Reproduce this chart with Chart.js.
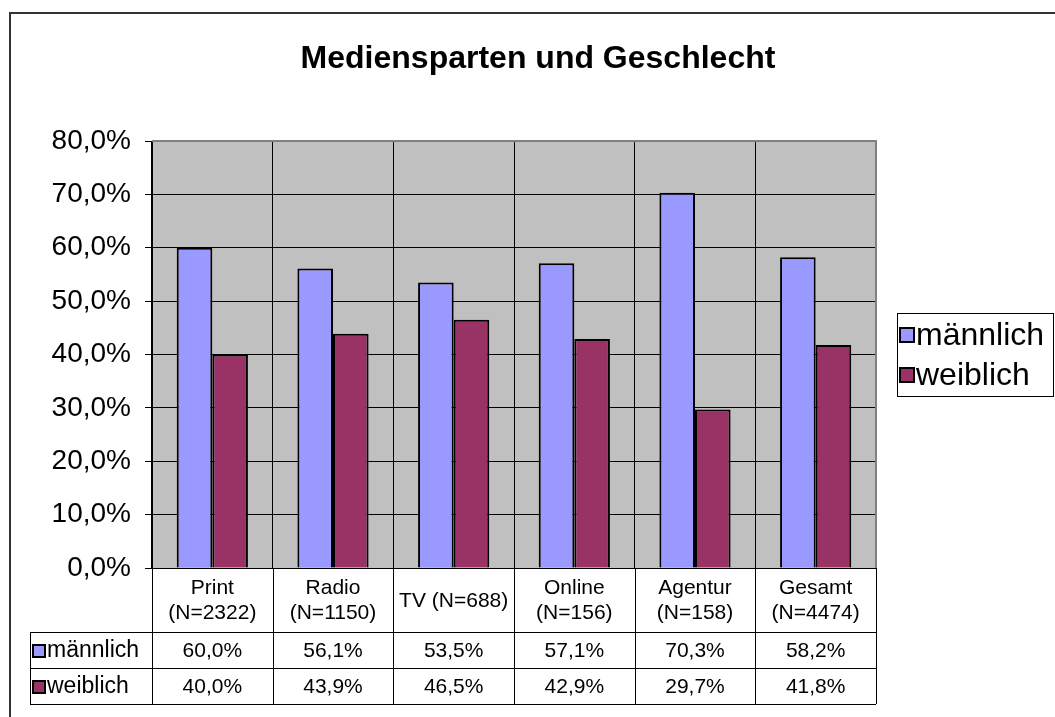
<!DOCTYPE html>
<html>
<head>
<meta charset="utf-8">
<script src="https://cdn.jsdelivr.net/npm/chart.js@4/dist/chart.umd.min.js"></script>
<style>
  html, body { margin: 0; padding: 0; background: #fff; }
  #wrap { width: 1055px; height: 717px; }
</style>
</head>
<body>
<div id="wrap"><canvas id="chart" width="1055" height="717"></canvas></div>
<script>
const chartTitle = "Mediensparten und Geschlecht";
const categories = [
  ["Print", "(N=2322)"],
  ["Radio", "(N=1150)"],
  ["TV (N=688)"],
  ["Online", "(N=156)"],
  ["Agentur", "(N=158)"],
  ["Gesamt", "(N=4474)"]
];
const seriesNames = ["männlich", "weiblich"];
const maleValues = [60.0, 56.1, 53.5, 57.1, 70.3, 58.2];
const femaleValues = [40.0, 43.9, 46.5, 42.9, 29.7, 41.8];
const seriesColors = ["#9999FF", "#993366"];
const yTicks = [0, 10, 20, 30, 40, 50, 60, 70, 80];

const FONT = "'Liberation Sans', Arial, sans-serif";

function fmtPct(v) {
  return v.toFixed(1).replace(".", ",") + "%";
}

// grey plot background + frame around the whole chart
const backgroundPlugin = {
  id: "plotBackground",
  beforeDraw(chart) {
    const { ctx, chartArea: a } = chart;
    ctx.save();
    ctx.fillStyle = "#fff";
    ctx.fillRect(0, 0, chart.width, chart.height);
    ctx.fillStyle = "#C0C0C0";
    ctx.fillRect(a.left, a.top, a.right - a.left, a.bottom - a.top);
    ctx.restore();
  },
  afterDraw(chart) {
    const { ctx, chartArea: a } = chart;
    ctx.save();
    // plot border top/right in grey
    ctx.strokeStyle = "#808080";
    ctx.lineWidth = 2;
    ctx.beginPath();
    ctx.moveTo(a.left, a.top);
    ctx.lineTo(a.right, a.top);
    ctx.lineTo(a.right, a.bottom);
    ctx.stroke();
    // outer frame
    ctx.strokeStyle = "#333";
    ctx.lineWidth = 2;
    ctx.beginPath();
    ctx.moveTo(10, chart.height);
    ctx.lineTo(10, 13);
    ctx.lineTo(chart.width, 13);
    ctx.stroke();
    ctx.restore();
  }
};

const titlePlugin = {
  id: "titleText",
  afterDraw(chart) {
    const ctx = chart.ctx;
    ctx.save();
    ctx.fillStyle = "#000";
    ctx.font = "bold 32px " + FONT;
    ctx.textAlign = "center";
    ctx.textBaseline = "alphabetic";
    ctx.fillText(chartTitle, 538, 68);
    ctx.restore();
  }
};

function legendKey(ctx, x, y, size, color) {
  ctx.fillStyle = color;
  ctx.fillRect(x, y, size, size);
  ctx.strokeStyle = "#000";
  ctx.lineWidth = 2;
  ctx.strokeRect(x, y, size, size);
}

const legendPlugin = {
  id: "sideLegend",
  afterDraw(chart) {
    const ctx = chart.ctx;
    ctx.save();
    ctx.strokeStyle = "#000";
    ctx.lineWidth = 1;
    ctx.strokeRect(897.5, 313.5, 156, 83);
    ctx.font = "32px " + FONT;
    ctx.textBaseline = "middle";
    ctx.textAlign = "left";
    seriesNames.forEach((name, i) => {
      const cy = 335 + i * 40;
      legendKey(ctx, 900, cy - 7, 14, seriesColors[i]);
      ctx.fillStyle = "#000";
      ctx.fillText(name, 916, cy + 1);
    });
    ctx.restore();
  }
};

// data table under the category axis
const tablePlugin = {
  id: "dataTable",
  afterDraw(chart) {
    const ctx = chart.ctx;
    const x = chart.scales.x;
    const a = chart.chartArea;
    const n = categories.length;
    const half = (x.getPixelForValue(1) - x.getPixelForValue(0)) / 2;
    const rows = [a.bottom, 632, 668, 704];
    const tableLeft = 30;

    ctx.save();
    ctx.strokeStyle = "#000";
    ctx.lineWidth = 1;
    ctx.beginPath();
    // horizontal lines
    for (let r = 1; r < rows.length; r++) {
      ctx.moveTo(tableLeft, rows[r] + 0.5);
      ctx.lineTo(a.right, rows[r] + 0.5);
    }
    // vertical lines
    ctx.moveTo(tableLeft + 0.5, rows[1]);
    ctx.lineTo(tableLeft + 0.5, rows[3]);
    for (let i = 0; i <= n; i++) {
      const px = Math.round(x.getPixelForValue(i) - half) + 0.5;
      ctx.moveTo(px, rows[0]);
      ctx.lineTo(px, rows[3]);
    }
    ctx.stroke();

    ctx.fillStyle = "#000";
    ctx.font = "21px " + FONT;
    ctx.textAlign = "center";
    ctx.textBaseline = "middle";
    categories.forEach((lines, i) => {
      const cx = x.getPixelForValue(i);
      const mid = (rows[0] + rows[1]) / 2 + 1;
      lines.forEach((t, j) => {
        const cy = mid + (j - (lines.length - 1) / 2) * 25;
        ctx.fillText(t, cx, cy);
      });
    });
    [maleValues, femaleValues].forEach((vals, r) => {
      const cy = (rows[r + 1] + rows[r + 2]) / 2 + 1;
      vals.forEach((v, i) => {
        ctx.fillText(fmtPct(v), x.getPixelForValue(i), cy);
      });
      legendKey(ctx, 33, cy - 6, 12, seriesColors[r]);
      ctx.fillStyle = "#000";
      ctx.textAlign = "left";
      ctx.font = "23px " + FONT;
      ctx.fillText(seriesNames[r], 47, cy);
      ctx.font = "21px " + FONT;
      ctx.textAlign = "center";
    });
    ctx.restore();
  }
};

new Chart(document.getElementById("chart"), {
  type: "bar",
  data: {
    labels: categories.map(c => c.join(" ")),
    datasets: [
      {
        label: seriesNames[0],
        data: maleValues,
        backgroundColor: seriesColors[0],
        borderColor: "#000",
        borderWidth: 2
      },
      {
        label: seriesNames[1],
        data: femaleValues,
        backgroundColor: seriesColors[1],
        borderColor: "#000",
        borderWidth: 2
      }
    ]
  },
  options: {
    responsive: false,
    animation: false,
    layout: { padding: { left: 0, right: 179, top: 141, bottom: 149 } },
    datasets: {
      bar: { categoryPercentage: 0.59, barPercentage: 1.0 }
    },
    plugins: {
      legend: { display: false },
      title: { display: false },
      tooltip: { enabled: false }
    },
    scales: {
      x: {
        grid: { offset: true, color: "#000", lineWidth: 1, drawTicks: false },
        border: { color: "#000", width: 1 },
        ticks: { display: false },
        afterFit(scale) { scale.height = 0; }
      },
      y: {
        min: 0,
        max: 80,
        afterBuildTicks(scale) { scale.ticks = yTicks.map(v => ({ value: v })); },
        grid: { color: "#000", lineWidth: 1, tickLength: 7 },
        border: { color: "#000", width: 1 },
        ticks: {
          color: "#000",
          padding: 14,
          font: { family: FONT, size: 28 },
          callback: v => fmtPct(v)
        },
        afterFit(scale) { scale.width = 152; }
      }
    }
  },
  plugins: [backgroundPlugin, titlePlugin, legendPlugin, tablePlugin]
});
</script>
</body>
</html>
